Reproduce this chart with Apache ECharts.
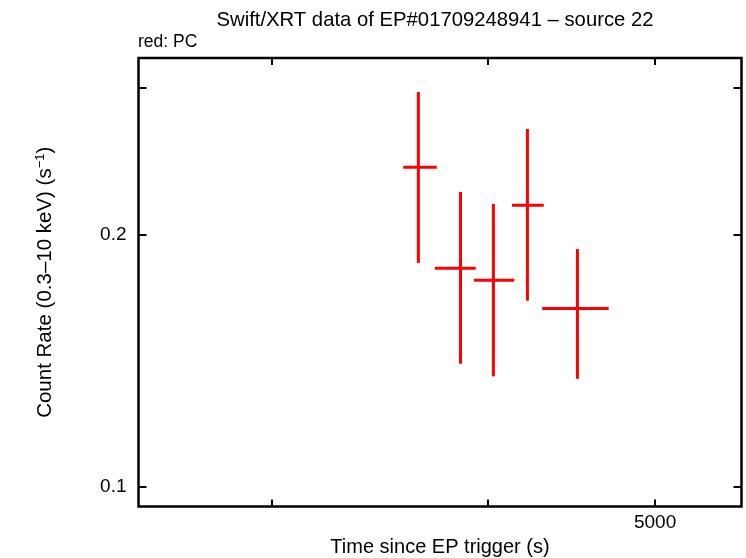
<!DOCTYPE html>
<html><head><meta charset="utf-8">
<script src="https://cdn.jsdelivr.net/npm/echarts@6/dist/echarts.min.js"></script>
<style>html,body{margin:0;padding:0;background:#fff}#c{width:746px;height:558px}</style>
</head><body><div id="c"></div>
<script>
// Data (time in s, rate in counts/s)
const timeMid = [3646, 3857, 4030, 4217, 4508];
const timeLo  = [3573, 3727, 3926, 4131, 4301];
const timeHi  = [3737, 3936, 4144, 4310, 4700];
const rate    = [0.2411, 0.1826, 0.1767, 0.2172, 0.1635];
const rateLo  = [0.1853, 0.1404, 0.1356, 0.1670, 0.1347];
const rateHi  = [0.2966, 0.2253, 0.2180, 0.2679, 0.1925];
const xTicks  = [3000, 4000, 5000];
const xLabels = [5000];
const yTicks  = [0.1, 0.2, 0.3];
const yLabels = [0.1, 0.2];

const FONT = "'Liberation Sans', Arial, Helvetica, sans-serif";
const X_MIN = 2510, X_MAX = 5611, Y_MIN = 0.09478, Y_MAX = 0.3257;

const chart = echarts.init(document.getElementById('c'), null, {renderer: 'canvas'});
const data = timeMid.map((t, i) => [t, rate[i], timeLo[i], timeHi[i], rateLo[i], rateHi[i]]);

function xAxisDef(pos, showLabel) {
  return {
    type: 'log', logBase: 10, position: pos, min: X_MIN, max: X_MAX,
    axisLine: {show: false}, splitLine: {show: false},
    axisTick: {show: true, inside: true, length: 7, customValues: xTicks, lineStyle: {color: '#000', width: 2}},
    axisLabel: {show: showLabel, customValues: xLabels, margin: 7, color: '#000', fontSize: 19, fontFamily: FONT,
      formatter: v => String(Math.round(v))},
    name: showLabel ? 'Time since EP trigger (s)' : '', nameLocation: 'middle', nameGap: 29,
    nameTextStyle: {color: '#000', fontSize: 20, fontFamily: FONT}
  };
}
function yAxisDef(pos, showLabel) {
  return {
    type: 'log', logBase: 10, position: pos, min: Y_MIN, max: Y_MAX,
    axisLine: {show: false}, splitLine: {show: false},
    axisTick: {show: true, inside: true, length: 8, customValues: yTicks, lineStyle: {color: '#000', width: 2}},
    axisLabel: {show: showLabel, customValues: yLabels, margin: 12, color: '#000', fontSize: 19, fontFamily: FONT,
      formatter: v => String(+v.toPrecision(3))},
    name: showLabel ? 'Count Rate (0.3\u201310 keV) (s{sup|\u22121})' : '', nameLocation: 'middle', nameGap: 82,
    nameTextStyle: {color: '#000', fontSize: 20.5, fontFamily: FONT,
      rich: {sup: {fontSize: 13, fontFamily: FONT, color: '#000', padding: [0, 0, 10, 0]}}}
  };
}

chart.setOption({
  animation: false,
  backgroundColor: '#fff',
  grid: {left: 138.5, right: 4.5, top: 58, bottom: 51.5, outerBoundsMode: 'none', containLabel: false,
    show: true, borderColor: '#000', borderWidth: 2.5, backgroundColor: 'transparent'},
  xAxis: [xAxisDef('bottom', true), xAxisDef('top', false)],
  yAxis: [yAxisDef('left', true), yAxisDef('right', false)],
  graphic: [
    {type: 'text', x: 435, y: 10, style: {text: 'Swift/XRT data of EP#01709248941 \u2013 source 22', textAlign: 'center', fill: '#000', font: '20.3px ' + FONT}},
    {type: 'text', x: 138, y: 33, style: {text: 'red: PC', fill: '#000', font: '17.5px ' + FONT}}
  ],
  series: [{
    type: 'custom',
    xAxisIndex: 0, yAxisIndex: 0,
    data: data,
    encode: {x: 0, y: 1},
    renderItem: function (params, api) {
      const c = api.coord([api.value(0), api.value(1)]);
      const xl = api.coord([api.value(2), api.value(1)]);
      const xh = api.coord([api.value(3), api.value(1)]);
      const yl = api.coord([api.value(0), api.value(4)]);
      const yh = api.coord([api.value(0), api.value(5)]);
      const st = {stroke: '#ff0000', lineWidth: 3};
      return {type: 'group', children: [
        {type: 'line', shape: {x1: xl[0], y1: c[1], x2: xh[0], y2: c[1]}, style: st},
        {type: 'line', shape: {x1: c[0], y1: yl[1], x2: c[0], y2: yh[1]}, style: st}
      ]};
    }
  }]
});
</script>
</body></html>
